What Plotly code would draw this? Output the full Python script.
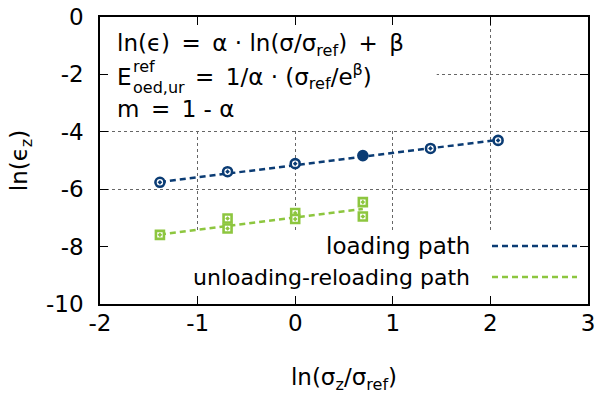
import plotly.graph_objects as go

# ---- data ----
load_x = [-1.386, -0.693, 0.0, 0.693, 1.386, 2.079]
load_y = [-5.76, -5.39, -5.11, -4.83, -4.58, -4.30]
load_filled = [False, False, False, True, False, False]

unl_x = [-1.386, -0.693, -0.693, 0.0, 0.0, 0.693, 0.693]
unl_y = [-7.59, -7.02, -7.37, -6.83, -7.04, -6.45, -6.95]

load_fit_x = [-1.386, 2.079]
load_fit_y = [-5.75, -4.28]
unl_fit_x = [-1.386, 0.693]
unl_fit_y = [-7.58, -6.69]

x_ticks = [-2, -1, 0, 1, 2, 3]
y_ticks = [0, -2, -4, -6, -8, -10]

BLUE = "#0b3c74"
GREEN = "#8dc63f"
FONT = "DejaVu Sans"
FS = 23

# plot area in pixels
L, R, T, B = 100, 588, 17, 304
W, H = 612, 400


def px(x):
    return (x - L) / (R - L)


def py(y):
    return (B - y) / (B - T)


fig = go.Figure()
dash = "6px,4px"
fig.add_trace(go.Scatter(x=load_fit_x, y=load_fit_y, mode="lines",
                         line=dict(color=BLUE, width=2.5, dash=dash), showlegend=False))
fig.add_trace(go.Scatter(x=unl_fit_x, y=unl_fit_y, mode="lines",
                         line=dict(color=GREEN, width=2.5, dash=dash), showlegend=False))
fig.add_trace(go.Scatter(x=load_x, y=load_y, mode="markers", showlegend=False,
                         marker=dict(symbol="circle-dot", size=9,
                                     color=[BLUE if f else "white" for f in load_filled],
                                     line=dict(color=BLUE, width=2.6))))
fig.add_trace(go.Scatter(x=unl_x, y=unl_y, mode="markers", showlegend=False,
                         marker=dict(symbol="square-dot", size=8, color="white",
                                     line=dict(color=GREEN, width=2.6))))

shapes = [
    # opaque text box and key box hiding the grid
    dict(type="rect", xref="x", yref="y", x0=-2, x1=1.45, y0=0, y1=-3.9,
         fillcolor="white", line=dict(width=0), layer="between"),
    dict(type="rect", xref="x", yref="y", x0=-2, x1=3, y0=-7.45, y1=-10,
         fillcolor="white", line=dict(width=0), layer="between"),
    # legend samples
    dict(type="line", xref="paper", yref="paper", x0=px(492), x1=px(577), y0=py(246), y1=py(246),
         line=dict(color=BLUE, width=2.5, dash=dash)),
    dict(type="line", xref="paper", yref="paper", x0=px(492), x1=px(577), y0=py(277), y1=py(277),
         line=dict(color=GREEN, width=2.5, dash=dash)),
]

font = dict(family=FONT, size=FS, color="black")
ann = []


def add(text, x, y, xanchor="left", size=FS):
    ann.append(dict(text=text, xref="paper", yref="paper", x=px(x), y=py(y),
                    xanchor=xanchor, yanchor="middle", showarrow=False,
                    font=dict(family=FONT, size=size, color="black")))


sp = "\u2002"  # wider spacing like TeX math
add(f"ln(ϵ){sp}={sp}α · ln(σ/σ<sub>ref</sub>){sp}+{sp}β", 115, 45)
add("E", 115, 77)
add("ref", 131, 66, size=16)
add("oed,ur", 131, 87, size=16)
add(f"={sp}1/α · (σ<sub>ref</sub>/e<sup>β</sup>)", 193, 77)
add(f"m{sp}={sp}1 - α", 115, 109)
add("loading path", 472, 246, xanchor="right")
add("unloading-reloading path", 472, 277, xanchor="right", size=22)

fig.update_layout(
    width=W, height=H,
    margin=dict(l=L, r=W - R, t=T, b=H - B),
    plot_bgcolor="white", paper_bgcolor="white",
    font=font,
    shapes=shapes, annotations=ann,
    xaxis=dict(range=[-2, 3], tickvals=x_ticks, ticktext=[str(v) for v in x_ticks],
               automargin=False,
               showline=True, linecolor="black", linewidth=1.5, mirror="ticks",
               ticks="inside", ticklen=8, tickwidth=1.2, tickcolor="black",
               showgrid=True, gridcolor="#666", griddash="dot", gridwidth=1,
               zeroline=False, ticklabelstandoff=-2,
               title=dict(text="ln(σ<sub>z</sub>/σ<sub>ref</sub>)", standoff=34,
                          font=dict(family=FONT, size=FS))),
    yaxis=dict(range=[-10, 0], tickvals=y_ticks, ticktext=[str(v) for v in y_ticks],
               automargin=False,
               showline=True, linecolor="black", linewidth=1.5, mirror="ticks",
               ticks="inside", ticklen=8, tickwidth=1.2, tickcolor="black",
               showgrid=True, gridcolor="#666", griddash="dot", gridwidth=1,
               zeroline=False, ticklabelstandoff=10,
               title=dict(text="ln(ϵ<sub>z</sub>)", standoff=12,
                          font=dict(family=FONT, size=FS))),
)

fig.write_html("out.html", config={"displayModeBar": False},
               post_script="document.body.style.margin='0';")
